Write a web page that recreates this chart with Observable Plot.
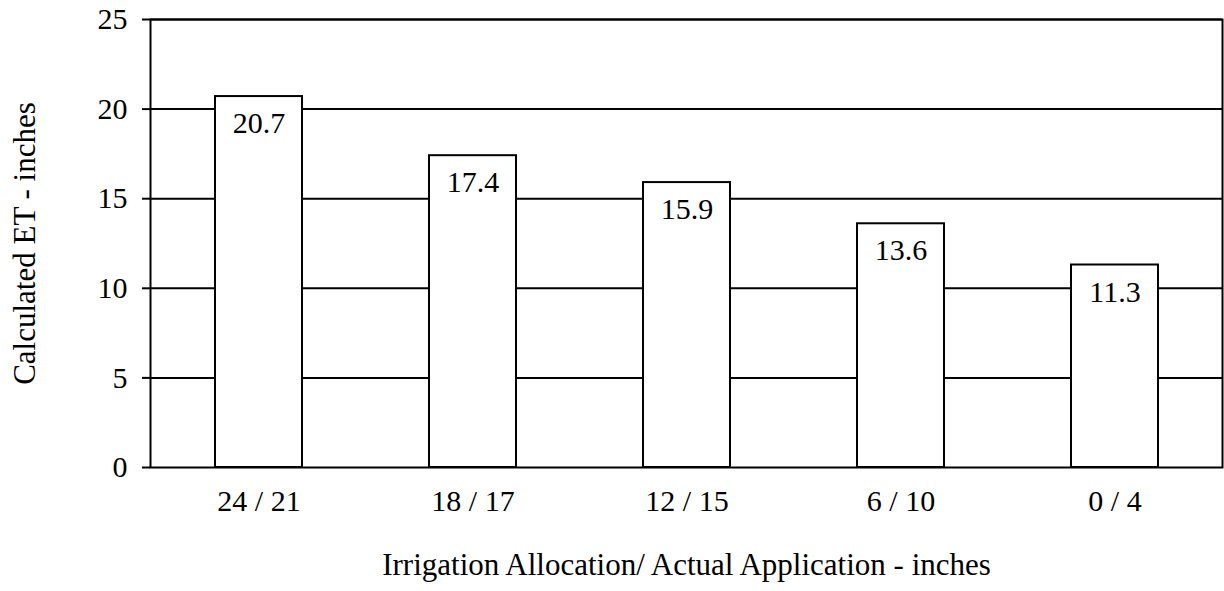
<!DOCTYPE html>
<html>
<head>
<meta charset="utf-8">
<script src="https://cdn.jsdelivr.net/npm/d3@7"></script>
<script src="https://cdn.jsdelivr.net/npm/@observablehq/plot@0.6"></script>
<style>
  html, body { margin: 0; padding: 0; background: #fff; }
  #chart svg { display: block; }
  #chart svg text { font-family: 'Liberation Serif', 'Times New Roman', serif; }
</style>
</head>
<body>
<div id="chart"></div>
<script>
const categories = ["24 / 21", "18 / 17", "12 / 15", "6 / 10", "0 / 4"];
const values = [20.7, 17.4, 15.9, 13.6, 11.3];
const yTicks = [0, 5, 10, 15, 20, 25];
const gridValues = [5, 10, 15, 20, 25];
const xLabel = "Irrigation Allocation/ Actual Application - inches";
const yLabel = "Calculated ET - inches";

const data = categories.map((c, i) => ({cat: c, value: values[i]}));
const font = "'Liberation Serif', 'Times New Roman', serif";

const chart = Plot.plot({
  width: 1224,
  height: 591,
  marginLeft: 150,
  marginRight: 2,
  marginTop: 19,
  marginBottom: 124,
  style: {fontFamily: font, background: "white", color: "black"},
  x: {domain: categories, paddingInner: 0.595, paddingOuter: 0.2975, label: null},
  y: {domain: [0, 25], label: null},
  marks: [
    Plot.ruleY(gridValues, {stroke: "black", strokeWidth: 2}),
    Plot.frame({stroke: "black", strokeWidth: 2}),
    Plot.axisY({ticks: yTicks, tickSize: 8, tickPadding: 15, fontSize: 30, fontFamily: font, strokeWidth: 2, label: null}),
    Plot.axisX({tickSize: 0, tickPadding: 22, fontSize: 30, fontFamily: font, label: null}),
    Plot.barY(data, {x: "cat", y: "value", fill: "white", stroke: "black", strokeWidth: 2}),
    Plot.text(data, {x: "cat", y: "value", text: d => d.value.toFixed(1), dy: 27, lineAnchor: "middle", fontSize: 30, fontFamily: font, fill: "black"}),
    Plot.text([xLabel], {frameAnchor: "bottom", dy: 98, lineAnchor: "middle", textAnchor: "middle", fontSize: 31, fontFamily: font, fill: "black"}),
    Plot.text([yLabel], {frameAnchor: "left", dx: -125, rotate: -90, lineAnchor: "middle", textAnchor: "middle", fontSize: 31, fontFamily: font, fill: "black"})
  ]
});
document.getElementById("chart").appendChild(chart);
</script>
</body>
</html>
